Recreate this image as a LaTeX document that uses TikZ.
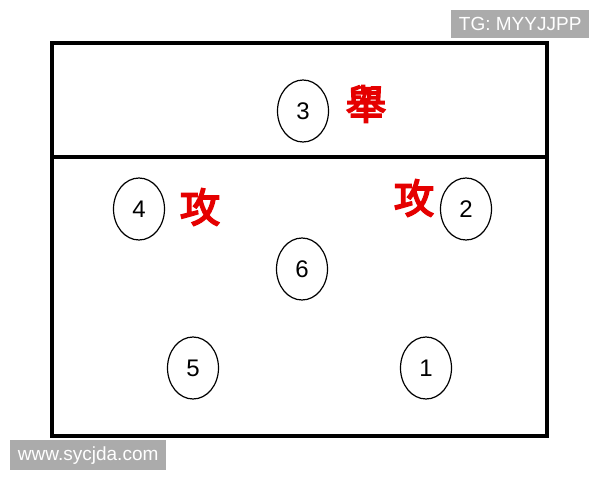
\documentclass[tikz,border=0pt]{standalone}
\usepackage{fontspec}
\usetikzlibrary{shapes.geometric}
\setmainfont{Liberation Sans}
\newfontfamily\cjk[FakeBold=4.5]{Noto Sans CJK TC}
\begin{document}
\begin{tikzpicture}[x=1pt,y=-1pt,
  player/.style={draw,line width=1.2pt,ellipse,minimum width=51pt,minimum height=62pt,inner sep=0pt,font=\fontsize{24}{24}\selectfont},
  tag/.style={text=red!90!black,font=\cjk\fontsize{40}{40}\selectfont,inner sep=0pt},
  wm/.style={fill=black!33,inner sep=0pt,anchor=north west},
  wmtext/.style={text=white,font=\fontsize{19}{19}\selectfont,inner sep=0pt}]
\useasboundingbox (0,0) rectangle (600,480);
\fill[white] (0,0) rectangle (600,480);
\draw[line width=4pt] (52,43) rectangle (547,436);
\draw[line width=3.5pt] (52,157) -- (547,157);
\node[player] (p3) at (303,111) {3};
\node[player] (p4) at (139,209) {4};
\node[player] (p2) at (466,209) {2};
\node[player] (p6) at (302,269) {6};
\node[player] (p5) at (193,368) {5};
\node[player] (p1) at (426,368) {1};
\node[tag] (t3) at (366,104) {舉};
\node[tag] (t4) at (200,207) {攻};
\node[tag] (t2) at (414,198) {攻};
\node[wm,minimum width=138pt,minimum height=28pt] (w1) at (451,10) {};
\node[wmtext] (w1t) at (w1.center) {TG: MYYJJPP};
\node[wm,minimum width=156pt,minimum height=30pt] (w2) at (10,440) {};
\node[wmtext] (w2t) at (w2.center) {www.sycjda.com};
\end{tikzpicture}
\end{document}
